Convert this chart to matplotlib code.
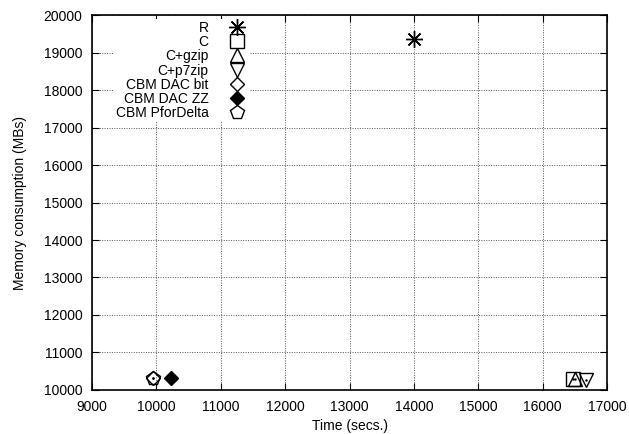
import matplotlib.pyplot as plt

plt.rcParams['font.family'] = ['Liberation Sans', 'DejaVu Sans']

# Data
names = ["R", "C", "C+gzip", "C+p7zip", "CBM DAC bit", "CBM DAC ZZ", "CBM PforDelta"]
times = [14000, 16470, 16500, 16680, 9940, 10225, 9940]
memory = [19350, 10300, 10300, 10270, 10320, 10320, 10320]
markers = [(8, 2, 0), "s", "^", "v", "D", "D", "p"]
sizes = [12, 9.5, 9.5, 9.5, 7.5, 7.5, 10]
filled = [False, False, False, False, False, True, False]

fig = plt.figure(figsize=(6.29, 4.34), dpi=100)
ax = fig.add_axes([0.1463, 0.1014, 0.8187, 0.864])

handles = []
for name, t, m, mk, sz, f in zip(names, times, memory, markers, sizes, filled):
    h, = ax.plot(t, m, linestyle="none", marker=mk, markersize=sz,
                 markerfacecolor="black" if f else "none",
                 markeredgecolor="black", markeredgewidth=1.0, label=name)
    handles.append(h)
    if not f and mk != (8, 2, 0):
        ax.plot(t, m, linestyle="none", marker=".", markersize=1.5, color="black")

ax.set_xlim(9000, 17000)
ax.set_ylim(10000, 20000)
ax.set_xticks(range(9000, 17001, 1000))
ax.set_yticks(range(10000, 20001, 1000))
ax.tick_params(direction="in", top=True, right=True, length=5, labelsize=10)
ax.tick_params(axis="x", pad=7)
ax.tick_params(axis="y", pad=7)
ax.grid(True, linestyle=(0, (1, 1.5)), color="#555555", linewidth=0.7)
for s in ax.spines.values():
    s.set_linewidth(1.2)

ax.set_xlabel("Time (secs.)", fontsize=10, labelpad=4)
ax.set_ylabel("Memory consumption (MBs)", fontsize=10, labelpad=12)

# gnuplot-style key: labels on the left, opaque background, no border
leg = ax.legend(handles=handles, loc="upper left", bbox_to_anchor=(0.038, 0.996),
                markerfirst=False, frameon=True, fancybox=False, fontsize=10,
                labelspacing=0.02, handletextpad=1.3, handlelength=1.5,
                borderaxespad=0.2, borderpad=0.1, framealpha=1.0)
leg.get_frame().set_edgecolor("none")
leg.get_frame().set_facecolor("white")
for t in leg.get_texts():
    t.set_ha("right")
leg.set_zorder(5)

fig.savefig("out.png", dpi=100)
